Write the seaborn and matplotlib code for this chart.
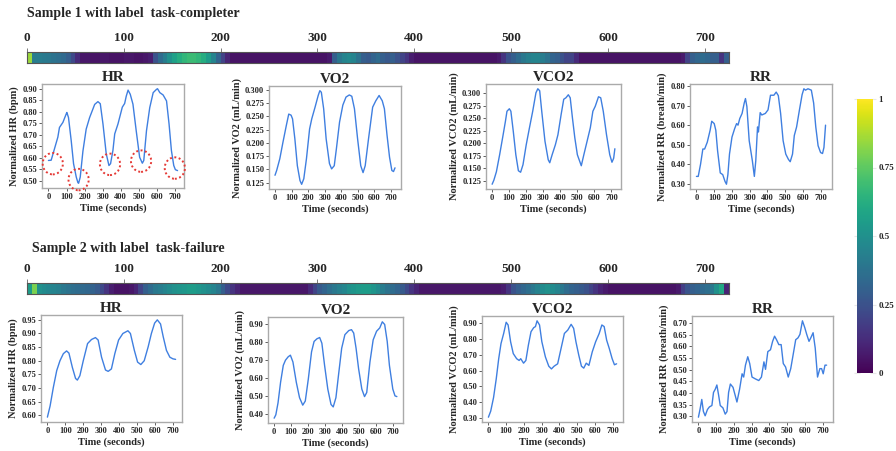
import numpy as np
import pandas as pd
import matplotlib
matplotlib.use('Agg')
import matplotlib.pyplot as plt
import seaborn as sns
from matplotlib.patches import Ellipse
from matplotlib.ticker import MultipleLocator, FormatStrFormatter

# ---------------- data ----------------
sample_titles = ["Sample 1 with label  task-completer", "Sample 2 with label  task-failure"]
panel_titles = ["HR", "VO2", "VCO2", "RR"]
panel_ylabels = ["Normalized HR (bpm)", "Normalized VO2 (mL/min)",
                 "Normalized VCO2 (mL/min)", "Normalized RR (breath/min)"]
bar_ticks = [0, 100, 200, 300, 400, 500, 600, 700]
time_ticks = [0, 100, 200, 300, 400, 500, 600, 700]
cbar_ticks = [0, 0.25, 0.5, 0.75, 1]
cbar_ticklabels = ["0", "0.25", "0.5", "0.75", "1"]
bin_width = 5  # seconds per heat cell

heat1 = [0.85,
         0.42, 0.42, 0.41, 0.40, 0.38, 0.36, 0.34,
         0.30, 0.22, 0.12,
         0.06, 0.06, 0.05, 0.05, 0.06, 0.06, 0.05, 0.05, 0.05, 0.06, 0.06, 0.05, 0.05, 0.06, 0.08,
         0.25, 0.35, 0.42, 0.50, 0.57, 0.62, 0.66, 0.68, 0.68, 0.66, 0.62, 0.55, 0.45, 0.32, 0.20, 0.10,
         0.05, 0.05, 0.05, 0.05, 0.05, 0.05, 0.05, 0.05, 0.05, 0.05, 0.05, 0.05, 0.05, 0.05, 0.05, 0.05,
         0.05, 0.05, 0.05, 0.05, 0.07,
         0.30, 0.40, 0.45, 0.47, 0.45, 0.38, 0.30, 0.28, 0.32, 0.35, 0.30, 0.27, 0.30, 0.25, 0.20, 0.15, 0.08,
         0.05, 0.05, 0.05, 0.05, 0.05, 0.05, 0.05, 0.05, 0.05, 0.05, 0.05, 0.05, 0.05, 0.05, 0.05, 0.05,
         0.05, 0.07,
         0.15, 0.25, 0.30, 0.35, 0.40, 0.43, 0.45, 0.45, 0.42, 0.38, 0.32, 0.30, 0.25, 0.20, 0.20, 0.12,
         0.05, 0.05, 0.05, 0.05, 0.05, 0.05, 0.05, 0.05, 0.05, 0.05, 0.05, 0.05, 0.05, 0.05, 0.05, 0.05,
         0.05, 0.05, 0.05, 0.05, 0.05, 0.07,
         0.20, 0.30, 0.33, 0.35, 0.33, 0.30, 0.30, 0.15, 0.30]

heat2 = [0.55, 0.80,
         0.50, 0.48, 0.46, 0.45, 0.43,
         0.40, 0.38, 0.36, 0.35, 0.34, 0.33, 0.31, 0.28, 0.22, 0.15,
         0.08, 0.05, 0.05, 0.05, 0.06, 0.10, 0.20,
         0.30, 0.35, 0.40, 0.42, 0.45, 0.48, 0.50, 0.52, 0.53, 0.55, 0.55, 0.53, 0.50, 0.48, 0.45, 0.40,
         0.30, 0.22, 0.15, 0.10, 0.06, 0.06, 0.06, 0.06, 0.06, 0.06, 0.06, 0.06, 0.06, 0.06, 0.06, 0.06,
         0.06, 0.06, 0.12,
         0.20, 0.28, 0.32, 0.36, 0.40, 0.43, 0.46,
         0.50, 0.52, 0.54, 0.55, 0.55, 0.52, 0.48, 0.42,
         0.38, 0.35, 0.32, 0.28, 0.22, 0.15, 0.10,
         0.06, 0.06, 0.06, 0.06, 0.06, 0.06, 0.06, 0.06, 0.06, 0.06, 0.06, 0.06, 0.06, 0.06, 0.06, 0.06,
         0.06, 0.08,
         0.15, 0.25, 0.30, 0.33, 0.36, 0.40, 0.44,
         0.48, 0.50, 0.48, 0.45, 0.40, 0.35, 0.32,
         0.30, 0.28, 0.25, 0.20, 0.15, 0.10, 0.07,
         0.05, 0.05, 0.05, 0.05, 0.05, 0.05, 0.05, 0.05, 0.05, 0.05, 0.05, 0.05, 0.05, 0.05, 0.07,
         0.18, 0.26, 0.30, 0.32, 0.34, 0.36, 0.40, 0.50,
         0.60, 0.10]

# sample 1
hr1_t = [0, 15, 28, 52, 61, 80, 98, 102, 111, 126, 139, 154, 163, 167, 176, 191, 209, 228, 256, 274,
         287, 302, 320, 335, 344, 357, 367, 385, 409, 422, 431, 441, 453, 468, 486, 505, 520, 528, 543, 561,
         580, 598, 604, 617, 635, 654, 668, 681, 694, 703, 715]
hr1 = [0.589, 0.59, 0.625, 0.69, 0.732, 0.754, 0.79, 0.797, 0.775, 0.675, 0.575, 0.517, 0.493, 0.49, 0.517,
       0.63, 0.725, 0.775, 0.832, 0.844, 0.835, 0.747, 0.618, 0.567, 0.575, 0.632, 0.704, 0.747, 0.82, 0.836,
       0.868, 0.894, 0.876, 0.833, 0.718, 0.603, 0.577, 0.589, 0.718, 0.818, 0.883, 0.897, 0.90, 0.883, 0.873,
       0.847, 0.747, 0.632, 0.567, 0.549, 0.545]
vo2_1_t = [0, 10, 29, 48, 68, 83, 97, 106, 120, 135, 151, 161, 174, 190, 209, 222, 242, 261, 271, 280,
           294, 309, 329, 342, 358, 371, 390, 410, 429, 449, 464, 480, 499, 518, 532, 545, 565, 590, 609, 629,
           648, 661, 677, 692, 706, 716, 725]
vo2_1 = [0.139, 0.148, 0.17, 0.201, 0.232, 0.254, 0.252, 0.245, 0.2075, 0.157, 0.129, 0.122, 0.1325, 0.17,
         0.226, 0.245, 0.267, 0.289, 0.298, 0.295, 0.264, 0.2075, 0.161, 0.151, 0.157, 0.189, 0.239, 0.271,
         0.286, 0.29, 0.2875, 0.264, 0.2075, 0.157, 0.144, 0.157, 0.2075, 0.267, 0.279, 0.289, 0.279, 0.264,
         0.214, 0.173, 0.148, 0.146, 0.153]
vco2_1_t = [0, 10, 25, 44, 63, 78, 87, 101, 110, 124, 139, 154, 167, 181, 200, 219, 238, 257, 268, 279,
            291, 310, 329, 338, 352, 371, 386, 405, 420, 433, 447, 458, 471, 485, 500, 523, 538, 557, 576, 591,
            605, 624, 637, 652, 671, 690, 703, 713, 720]
vco2_1 = [0.118, 0.126, 0.143, 0.177, 0.214, 0.244, 0.264, 0.269, 0.264, 0.224, 0.177, 0.145, 0.142, 0.157,
          0.197, 0.231, 0.264, 0.301, 0.309, 0.305, 0.264, 0.204, 0.167, 0.161, 0.177, 0.197, 0.217, 0.258,
          0.288, 0.291, 0.297, 0.291, 0.251, 0.211, 0.177, 0.155, 0.177, 0.204, 0.231, 0.264, 0.274, 0.293,
          0.291, 0.264, 0.217, 0.177, 0.162, 0.17, 0.189]
rr1_t = [0, 10, 23, 36, 46, 61, 77, 86, 100, 109, 119, 134, 148, 161, 169, 177, 186, 200, 215, 226,
         234, 244, 257, 269, 276, 284, 297, 315, 326, 334, 344, 349, 359, 368, 388, 403, 417, 436, 449, 461,
         474, 488, 503, 518, 528, 541, 551, 564, 580, 595, 605, 614, 628, 647, 660, 672, 685, 699, 710, 718,
         727]
rr1 = [0.338, 0.338, 0.40, 0.478, 0.478, 0.513, 0.574, 0.62, 0.608, 0.574, 0.469, 0.356, 0.347, 0.312, 0.298,
       0.347, 0.452, 0.539, 0.582, 0.608, 0.60, 0.634, 0.66, 0.713, 0.736, 0.695, 0.521, 0.417, 0.338, 0.417,
       0.591, 0.565, 0.664, 0.652, 0.66, 0.678, 0.753, 0.753, 0.769, 0.751, 0.66, 0.521, 0.452, 0.425, 0.413,
       0.452, 0.547, 0.591, 0.678, 0.756, 0.786, 0.779, 0.786, 0.779, 0.713, 0.591, 0.495, 0.46, 0.455, 0.486,
       0.60]
circle_t = [24, 167, 341, 513, 700]
circle_v = [0.575, 0.506, 0.572, 0.586, 0.556]

# sample 2
hr2_t = [0, 15, 33, 52, 70, 89, 107, 120, 139, 157, 167, 181, 200, 224, 246, 268, 283, 302, 324, 339,
         357, 376, 397, 421, 449, 463, 485, 503, 521, 540, 562, 580, 598, 613, 631, 646, 664, 683, 700, 715]
hr2 = [0.593, 0.634, 0.702, 0.764, 0.80, 0.826, 0.836, 0.828, 0.776, 0.735, 0.729, 0.745, 0.80, 0.863, 0.878,
       0.885, 0.876, 0.813, 0.766, 0.761, 0.77, 0.826, 0.876, 0.90, 0.91, 0.90, 0.838, 0.795, 0.786, 0.80,
       0.851, 0.90, 0.938, 0.95, 0.935, 0.888, 0.838, 0.813, 0.807, 0.805]
vo2_2_t = [0, 10, 23, 38, 54, 67, 83, 96, 111, 131, 150, 169, 184, 202, 221, 236, 253, 269, 282, 298,
           317, 336, 349, 365, 380, 399, 418, 441, 457, 470, 484, 499, 518, 534, 547, 566, 585, 605, 624, 639,
           653, 668, 681, 701, 714, 725]
vo2_2 = [0.375, 0.394, 0.461, 0.576, 0.671, 0.70, 0.719, 0.728, 0.69, 0.576, 0.49, 0.448, 0.471, 0.595, 0.747,
         0.805, 0.82, 0.827, 0.795, 0.671, 0.538, 0.452, 0.438, 0.49, 0.614, 0.767, 0.843, 0.866, 0.871, 0.852,
         0.767, 0.652, 0.538, 0.496, 0.519, 0.69, 0.814, 0.862, 0.881, 0.915, 0.90, 0.805, 0.671, 0.538, 0.5,
         0.496]
vco2_2_t = [0, 13, 29, 44, 58, 71, 86, 100, 111, 125, 140, 159, 173, 182, 198, 211, 225, 240, 255, 265,
            274, 288, 301, 321, 340, 355, 370, 390, 409, 428, 447, 466, 480, 493, 509, 524, 537, 551, 566, 585,
            604, 624, 639, 652, 666, 681, 697, 710, 722]
vco2_2 = [0.308, 0.346, 0.431, 0.547, 0.674, 0.769, 0.832, 0.902, 0.885, 0.78, 0.706, 0.674, 0.663, 0.674,
          0.646, 0.663, 0.758, 0.843, 0.868, 0.875, 0.911, 0.885, 0.78, 0.685, 0.627, 0.61, 0.627, 0.642, 0.737,
          0.832, 0.853, 0.889, 0.864, 0.78, 0.696, 0.627, 0.615, 0.646, 0.632, 0.717, 0.78, 0.832, 0.885, 0.875,
          0.79, 0.737, 0.674, 0.636, 0.642]
rr2_t = [0, 9, 19, 28, 38, 51, 62, 76, 85, 95, 104, 113, 123, 138, 151, 161, 170, 180, 195, 208,
         217, 232, 246, 255, 265, 278, 289, 302, 321, 340, 355, 369, 378, 391, 406, 418, 429, 440, 453, 466,
         478, 491, 506, 520, 535, 548, 561, 572, 586, 599, 610, 623, 633, 646, 658, 671, 684, 694, 703, 713,
         722]
rr2 = [0.297, 0.33, 0.373, 0.322, 0.303, 0.33, 0.341, 0.347, 0.403, 0.417, 0.435, 0.395, 0.347, 0.337, 0.31,
       0.321, 0.403, 0.439, 0.425, 0.388, 0.362, 0.417, 0.483, 0.469, 0.52, 0.556, 0.527, 0.469, 0.461, 0.454,
       0.469, 0.534, 0.502, 0.578, 0.586, 0.622, 0.644, 0.629, 0.608, 0.608, 0.527, 0.512, 0.469, 0.505, 0.571,
       0.629, 0.637, 0.652, 0.71, 0.681, 0.652, 0.622, 0.637, 0.659, 0.593, 0.469, 0.505, 0.505, 0.483, 0.52,
       0.52]

# ---------------- style ----------------
sns.set_theme(style='white')
plt.rcParams['font.family'] = ['Liberation Serif', 'DejaVu Serif']
plt.rcParams['font.weight'] = 'bold'
plt.rcParams['axes.labelweight'] = 'bold'
plt.rcParams['axes.titleweight'] = 'bold'

LINE = '#3f7fe0'
W, H = 896, 451
fig = plt.figure(figsize=(W / 100, H / 100), dpi=100)
fig.patch.set_facecolor('white')


def rect(x0, y0, x1, y1):
    return [x0 / W, 1 - y1 / H, (x1 - x0) / W, (y1 - y0) / H]


def draw_bar(box, heat):
    ax = fig.add_axes(rect(*box))
    sns.heatmap(pd.DataFrame([heat]), ax=ax, cmap='viridis', vmin=0, vmax=1, cbar=False,
                xticklabels=False, yticklabels=False, linewidths=0, rasterized=True)
    ax.set_xticks([v / bin_width for v in bar_ticks])
    ax.set_xticklabels([str(v) for v in bar_ticks], fontsize=9.5, fontweight='bold')
    ax.set_yticks([])
    ax.xaxis.tick_top()
    ax.tick_params(axis='x', top=True, bottom=False, length=3, width=0.6, color='#666666', pad=3)
    for s in ax.spines.values():
        s.set_visible(True)
        s.set_color('#555555')
        s.set_linewidth(0.8)
    return ax


def draw_line(box, t, v, title, ylabel, step, fmt):
    ax = fig.add_axes(rect(*box))
    sns.lineplot(x=t, y=v, ax=ax, color=LINE, linewidth=1.0)
    ax.set_title(title, fontsize=11, fontweight='bold', pad=2)
    ax.set_ylabel(ylabel, fontsize=7.5, fontweight='bold', labelpad=2)
    ax.set_xlabel('Time (seconds)', fontsize=7.5, fontweight='bold', labelpad=2)
    ax.set_xticks(time_ticks)
    ax.yaxis.set_major_locator(MultipleLocator(step))
    ax.yaxis.set_major_formatter(FormatStrFormatter(fmt))
    ax.tick_params(labelsize=6, length=2, width=0.6, pad=1.5, color='#444444', left=True, bottom=True)
    for s in ax.spines.values():
        s.set_visible(True)
        s.set_color('#aaaaaa')
        s.set_linewidth(1.0)
    return ax


# titles
fig.text(27 / W, 1 - 14 / H, sample_titles[0], fontsize=10, fontweight='bold', va='center', ha='left')
fig.text(32 / W, 1 - 248 / H, sample_titles[1], fontsize=10, fontweight='bold', va='center', ha='left')

# bars
draw_bar((27, 52, 729, 63), heat1)
draw_bar((27, 283, 729, 294), heat2)

# row 1
ax_hr1 = draw_line((42, 84, 184, 188), hr1_t, hr1, panel_titles[0], panel_ylabels[0], 0.05, '%.2f')
draw_line((269, 86, 401, 189), vo2_1_t, vo2_1, panel_titles[1], panel_ylabels[1], 0.025, '%.3f')
draw_line((486, 84, 621, 189), vco2_1_t, vco2_1, panel_titles[2], panel_ylabels[2], 0.025, '%.3f')
draw_line((690, 84, 832, 189), rr1_t, rr1, panel_titles[3], panel_ylabels[3], 0.1, '%.2f')

# red dotted circles on HR
ax_hr1.set_xlim(ax_hr1.get_xlim())
ax_hr1.set_ylim(ax_hr1.get_ylim())
for ct, cv in zip(circle_t, circle_v):
    ax_hr1.add_patch(Ellipse((ct, cv), width=112, height=0.093, fill=False, edgecolor='#e53935',
                             linestyle=(0, (1, 1.3)), linewidth=1.4, clip_on=False, zorder=5))

# row 2
draw_line((41, 315, 182, 422), hr2_t, hr2, panel_titles[0], panel_ylabels[0], 0.05, '%.2f')
draw_line((268, 317, 403, 423), vo2_2_t, vo2_2, panel_titles[1], panel_ylabels[1], 0.1, '%.2f')
draw_line((482, 316, 623, 422), vco2_2_t, vco2_2, panel_titles[2], panel_ylabels[2], 0.1, '%.2f')
draw_line((692, 316, 833, 422), rr2_t, rr2, panel_titles[3], panel_ylabels[3], 0.05, '%.2f')

# colorbar
cax = fig.add_axes(rect(857, 99, 873, 373))
sm = plt.cm.ScalarMappable(cmap='viridis', norm=plt.Normalize(0, 1))
cb = fig.colorbar(sm, cax=cax, ticks=cbar_ticks)
cb.ax.set_yticklabels(cbar_ticklabels)
cb.outline.set_visible(False)
cax.tick_params(labelsize=6.5, direction='inout', length=4, width=0.8, color='#e8e8e8',
                left=True, right=True, pad=2)

fig.savefig('out.png', dpi=100, facecolor='white')
